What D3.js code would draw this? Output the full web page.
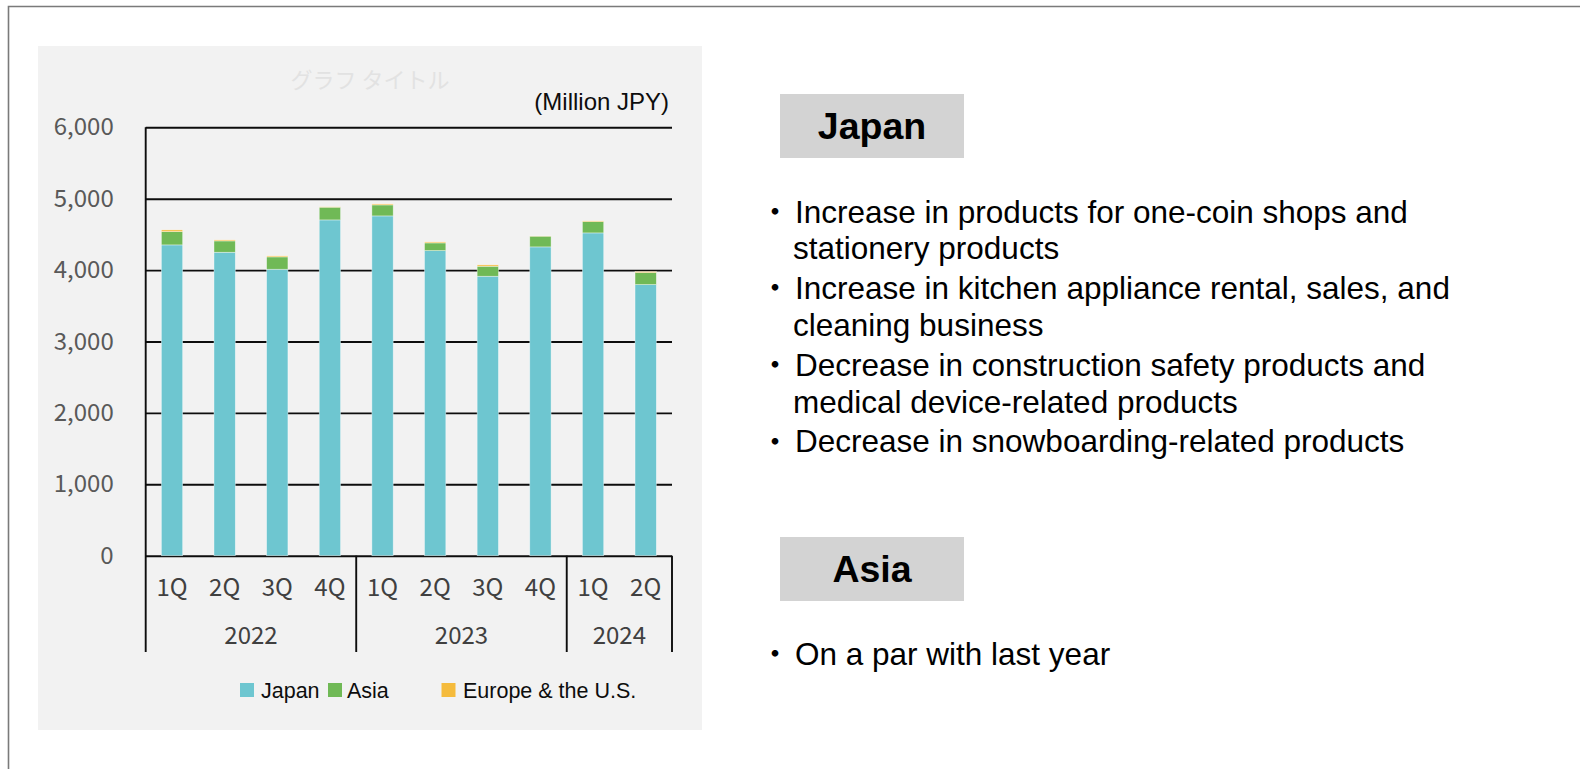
<!DOCTYPE html>
<html>
<head>
<meta charset="utf-8">
<script src="https://cdn.jsdelivr.net/npm/d3@7"></script>
<style>
  html, body { margin: 0; padding: 0; background: #ffffff; }
  svg { display: block; }
</style>
</head>
<body>
<svg id="chart" width="1580" height="769"></svg>
<script>
// Quarterly net sales by region (Million JPY)
const quarters = ["1Q", "2Q", "3Q", "4Q", "1Q", "2Q", "3Q", "4Q", "1Q", "2Q"];
const years = ["2022", "2023", "2024"];
const yearSpans = [4, 4, 2];
const japan = [4353, 4250, 4012, 4703, 4759, 4273, 3914, 4325, 4521, 3797];
const asia = [186, 159, 173, 178, 154, 108, 140, 150, 158, 168];
const europe = [24, 14, 14, 5, 14, 14, 19, 3, 10, 14];
const seriesNames = ["Japan", "Asia", "Europe & the U.S."];
const yTicks = [0, 1000, 2000, 3000, 4000, 5000, 6000];

// Commentary text on the right
const japanNotes = [
  ["Increase in products for one-coin shops and", "stationery products"],
  ["Increase in kitchen appliance rental, sales, and", "cleaning business"],
  ["Decrease in construction safety products and", "medical device-related products"],
  ["Decrease in snowboarding-related products"]
];
const asiaNotes = [["On a par with last year"]];

const colors = { "Japan": "#6ec6d0", "Asia": "#70b956", "Europe & the U.S.": "#f5bb3c" };
const jpFont = "'Noto Sans CJK JP', 'Noto Sans', sans-serif";
const enFont = "'Liberation Sans', Arial, sans-serif";

const svg = d3.select("#chart");

// page frame
svg.append("path")
  .attr("d", "M8.5,769 L8.5,6.5 L1580,6.5")
  .attr("fill", "none").attr("stroke", "#7a7a7a").attr("stroke-width", 1.6);

// chart panel
svg.append("rect").attr("x", 38).attr("y", 46).attr("width", 664).attr("height", 684)
  .attr("fill", "#f2f2f2");

const plot = { left: 145.7, right: 672, top: 127.3, bottom: 555.7 };

const rows = quarters.map((q, i) => ({
  idx: i, q, "Japan": japan[i], "Asia": asia[i], "Europe & the U.S.": europe[i]
}));

const x = d3.scaleBand()
  .domain(rows.map(d => d.idx))
  .range([plot.left, plot.right])
  .paddingInner(0.595)
  .paddingOuter(0.2975);

const y = d3.scaleLinear().domain([0, 6000]).range([plot.bottom, plot.top]);

// chart title placeholder
svg.append("text")
  .attr("x", 370).attr("y", 80).attr("dy", "0.35em")
  .attr("text-anchor", "middle")
  .attr("font-family", jpFont).attr("font-size", 22)
  .attr("fill", "#e2e2e2")
  .text("グラフ タイトル");

// unit label
svg.append("text")
  .attr("x", 669).attr("y", 102).attr("dy", "0.35em")
  .attr("text-anchor", "end")
  .attr("font-family", enFont).attr("font-size", 24)
  .attr("fill", "#0d0d0d")
  .text("(Million JPY)");

// gridlines
const yAxis = d3.axisLeft(y).tickValues(yTicks)
  .tickSize(-(plot.right - plot.left))
  .tickPadding(32)
  .tickFormat(d3.format(","));

const gy = svg.append("g")
  .attr("transform", `translate(${plot.left},0)`)
  .call(yAxis);
gy.select(".domain").remove();
gy.selectAll(".tick line").attr("stroke", "#0d0d0d").attr("stroke-width", 1.9);
gy.selectAll(".tick text")
  .attr("font-family", jpFont).attr("font-size", 24)
  .attr("fill", "#595959");

// stacked bars
const stack = d3.stack().keys(seriesNames);
const layers = stack(rows);

svg.append("g").selectAll("g")
  .data(layers)
  .join("g")
  .attr("fill", d => colors[d.key])
  .selectAll("rect")
  .data(d => d)
  .join("rect")
  .attr("x", d => x(d.data.idx))
  .attr("width", x.bandwidth())
  .attr("y", d => y(d[1]))
  .attr("height", d => y(d[0]) - y(d[1]))
  .attr("stroke", "#ffffff").attr("stroke-opacity", 0.55).attr("stroke-width", 0.7);

// category axis frame: vertical axis line and group separators
const catBottom = 652;
const step = x.step();
let boundaries = [0];
yearSpans.reduce((acc, n) => { boundaries.push(acc + n); return acc + n; }, 0);

svg.append("line")
  .attr("x1", plot.left).attr("x2", plot.left)
  .attr("y1", plot.top).attr("y2", catBottom)
  .attr("stroke", "#0d0d0d").attr("stroke-width", 1.9);

svg.append("g").selectAll("line")
  .data(boundaries.slice(1))
  .join("line")
  .attr("x1", d => plot.left + d * step).attr("x2", d => plot.left + d * step)
  .attr("y1", plot.bottom).attr("y2", catBottom)
  .attr("stroke", "#0d0d0d").attr("stroke-width", 1.9);

// quarter labels
svg.append("g").selectAll("text")
  .data(rows)
  .join("text")
  .attr("x", d => x(d.idx) + x.bandwidth() / 2)
  .attr("y", 587.5).attr("dy", "0.35em")
  .attr("text-anchor", "middle")
  .attr("font-family", jpFont).attr("font-size", 24)
  .attr("fill", "#404040")
  .text(d => d.q);

// year labels
svg.append("g").selectAll("text")
  .data(years)
  .join("text")
  .attr("x", (d, i) => plot.left + (boundaries[i] + boundaries[i + 1]) / 2 * step)
  .attr("y", 636).attr("dy", "0.35em")
  .attr("text-anchor", "middle")
  .attr("font-family", jpFont).attr("font-size", 24)
  .attr("fill", "#404040")
  .text(d => d);

// legend
const legendPos = [
  { sx: 240, tx: 261 },
  { sx: 328, tx: 347 },
  { sx: 441.5, tx: 463 }
];
const lg = svg.append("g").selectAll("g")
  .data(seriesNames)
  .join("g");
lg.append("rect")
  .attr("x", (d, i) => legendPos[i].sx).attr("y", 683)
  .attr("width", 14).attr("height", 14)
  .attr("fill", d => colors[d]);
lg.append("text")
  .attr("x", (d, i) => legendPos[i].tx).attr("y", 690).attr("dy", "0.35em")
  .attr("font-family", enFont).attr("font-size", 21.5)
  .attr("fill", "#0d0d0d")
  .text(d => d);

// commentary blocks
function noteBlock(title, boxY, lines, firstY) {
  svg.append("rect")
    .attr("x", 780).attr("y", boxY).attr("width", 184).attr("height", 64)
    .attr("fill", "#d3d3d3");
  svg.append("text")
    .attr("x", 872).attr("y", boxY + 32).attr("dy", "0.35em")
    .attr("text-anchor", "middle")
    .attr("font-family", enFont).attr("font-size", 37.5).attr("font-weight", "bold")
    .attr("fill", "#000")
    .text(title);
  let yy = firstY;
  const g = svg.append("g");
  lines.forEach((para, pi) => {
    if (pi > 0) yy += 39.8;
    para.forEach((ln, li) => {
      if (li > 0) yy += 36.8;
      if (li === 0) {
        g.append("text")
          .attr("x", 775).attr("y", yy).attr("dy", "0.35em")
          .attr("text-anchor", "middle")
          .attr("font-family", jpFont).attr("font-size", 26).attr("font-weight", "bold")
          .attr("fill", "#000")
          .text("・");
      }
      g.append("text")
        .attr("x", li === 0 ? 795 : 793).attr("y", yy).attr("dy", "0.35em")
        .attr("font-family", enFont).attr("font-size", 31.5)
        .attr("fill", "#000")
        .text(ln);
    });
  });
}

noteBlock("Japan", 94, japanNotes, 211.6);
noteBlock("Asia", 537, asiaNotes, 654);
</script>
</body>
</html>
